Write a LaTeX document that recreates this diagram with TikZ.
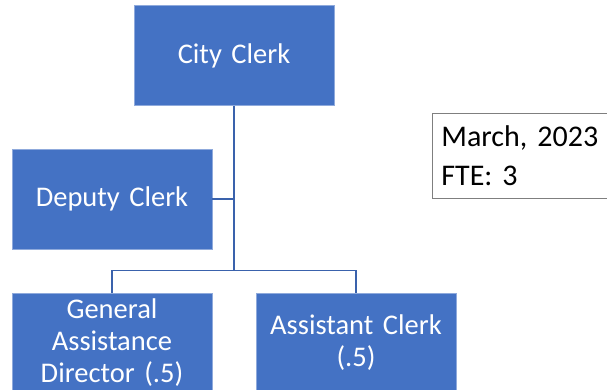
\documentclass[tikz,border=0pt]{standalone}
\usepackage{fontspec}
\setmainfont{Carlito}
\definecolor{boxblue}{HTML}{4472C4}
\definecolor{boxedge}{HTML}{8FAADC}
\definecolor{lineblue}{HTML}{3A62AC}
\definecolor{framegray}{HTML}{7F7F7F}
\newcommand{\tightspace}{\spaceskip=0.21em\relax}
\begin{document}
\begin{tikzpicture}[x=1pt,y=-1pt,
  role/.style={rectangle, fill=boxblue, draw=boxedge, line width=0.7pt,
    minimum width=200pt, minimum height=100pt, inner sep=2pt,
    text=white, align=center, font=\fontsize{28.5}{32}\selectfont\tightspace,
    text width=194pt},
  link/.style={draw=lineblue, line width=1.2pt},
  note/.style={rectangle, draw=framegray, line width=0.8pt, fill=white,
    align=left, anchor=north west, inner xsep=9pt, inner ysep=4pt,
    font=\fontsize{30}{39}\selectfont\tightspace, minimum width=185pt,
    minimum height=85pt, text width=167pt}]
  \useasboundingbox (0,0) rectangle (607,390);
  \fill[white] (0,0) rectangle (607,390);

  % boxes of the chart
  \node[role] (city)   at (234,55.5)  {City Clerk};
  \node[role] (deputy) at (112,199)   {Deputy Clerk};
  \node[role] (ga)     at (112,343)   {General\\Assistance\\Director (.5)};
  \node[role] (asst)   at (356,343)   {Assistant Clerk\\(.5)};

  % reporting lines
  \coordinate (bus) at (234,270.5);
  \draw[link] (city.south) -- (bus);
  \draw[link] (deputy.east) -- (deputy.east -| bus);
  \draw[link] (ga.north) |- (bus) -| (asst.north);

  % date and staffing note
  \node[note] (info) at (432,113) {March, 2023\\FTE: 3};
\end{tikzpicture}
\end{document}
